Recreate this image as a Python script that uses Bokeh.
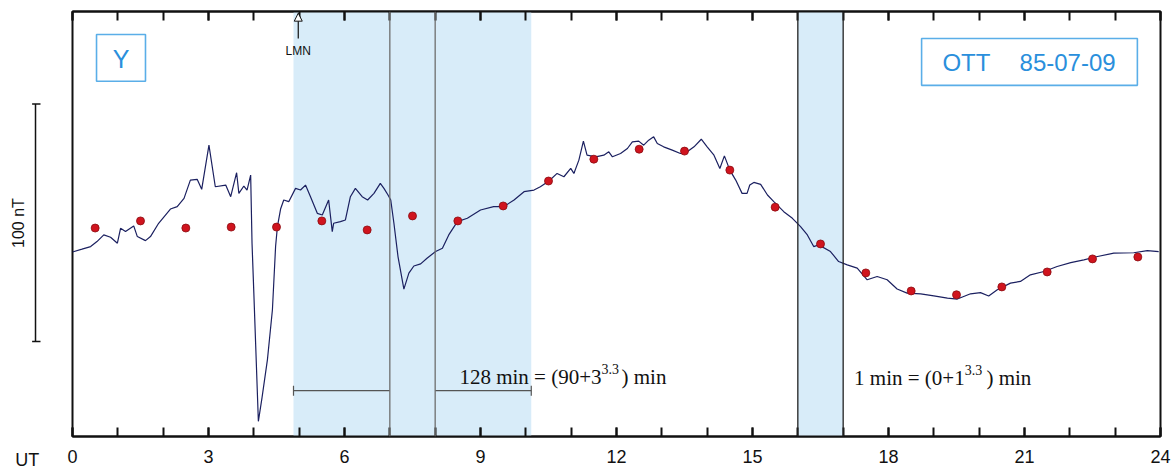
from bokeh.plotting import figure
from bokeh.models import (Range1d, LinearAxis, SingleIntervalTicker, FixedTicker, BoxAnnotation,
                          Span, Label, Arrow, NormalHead)
from bokeh.layouts import row
from bokeh.embed import file_html
from bokeh.resources import INLINE

# ---- data (UT hours, nT) ----
trace_t = [0.00, 0.21, 0.40, 0.54, 0.69, 0.84, 0.99, 1.06, 1.17, 1.35, 1.43, 1.61, 1.72, 1.90,
           2.16, 2.31, 2.46, 2.60, 2.75, 2.85, 3.01, 3.15, 3.38, 3.49, 3.62, 3.67, 3.78, 3.85,
           3.93, 3.96, 4.00, 4.10, 4.18, 4.30, 4.41, 4.48, 4.52, 4.59, 4.66, 4.77, 4.92, 5.03,
           5.14, 5.25, 5.40, 5.51, 5.65, 5.73, 5.76, 5.91, 6.02, 6.13, 6.24, 6.39, 6.51, 6.65,
           6.79, 6.87, 6.96, 7.02, 7.09, 7.18, 7.31, 7.42, 7.53, 7.68, 7.82, 8.01, 8.16, 8.30,
           8.49, 8.71, 9.00, 9.29, 9.51, 9.74, 9.96, 10.18, 10.32, 10.51, 10.69, 10.84, 10.99,
           11.06, 11.17, 11.27, 11.35, 11.54, 11.72, 11.83, 11.91, 12.09, 12.24, 12.35, 12.49,
           12.60, 12.71, 12.82, 12.90, 13.04, 13.23, 13.41, 13.56, 13.71, 13.87, 14.00, 14.15,
           14.28, 14.38, 14.50, 14.63, 14.77, 14.88, 14.94, 15.03, 15.18, 15.33, 15.47, 15.69,
           15.88, 16.06, 16.21, 16.35, 16.46, 16.72, 16.90, 17.09, 17.31, 17.53, 17.75, 17.97,
           18.19, 18.41, 18.71, 19.00, 19.30, 19.52, 19.81, 20.03, 20.21, 20.40, 20.69, 20.91,
           21.13, 21.43, 21.72, 22.02, 22.31, 22.61, 22.97, 23.41, 23.71, 23.96]
trace_v = [77.7, 78.9, 80.0, 82.1, 84.9, 83.9, 81.4, 87.7, 86.3, 88.7, 84.2, 82.5, 84.2, 89.8,
           95.8, 96.8, 100.3, 108.0, 108.3, 104.1, 122.7, 105.2, 105.9, 101.0, 111.1, 102.4, 105.5, 103.8,
           110.1, 81.5, 60.5, 6.4, 16.3, 32.4, 53.4, 80.0, 88.4, 95.8, 99.6, 98.9, 104.5, 103.8,
           105.9, 101.0, 94.0, 93.3, 99.6, 86.3, 89.8, 90.5, 91.2, 101.0, 104.5, 101.0, 99.6, 102.4,
           106.6, 104.5, 101.7, 99.6, 89.8, 75.8, 62.1, 68.8, 71.8, 72.7, 75.1, 77.9, 79.3, 84.9,
           90.5, 91.9, 95.4, 96.8, 96.8, 99.6, 103.1, 103.8, 105.2, 107.6, 110.8, 109.4, 112.9,
           110.8, 116.4, 124.4, 118.5, 117.8, 118.5, 119.9, 117.8, 119.2, 121.3, 124.1, 124.4,
           122.7, 124.8, 126.2, 123.4, 122.0, 120.6, 119.2, 119.9, 122.0, 125.2, 122.0, 118.5,
           112.9, 118.2, 112.2, 108.0, 102.4, 102.4, 105.9, 107.0, 106.2, 101.7, 98.9, 94.7,
           91.9, 88.4, 84.9, 80.0, 80.7, 77.9, 73.7, 72.3, 70.9, 66.0, 67.4, 66.0,
           62.1, 60.4, 60.1, 59.2, 58.3, 57.9, 60.1, 60.6, 59.2, 61.8, 64.6, 65.3,
           68.1, 69.5, 71.6, 73.2, 74.4, 75.8, 77.2, 77.4, 78.3, 77.9]

hour_t = [0.5, 1.5, 2.5, 3.5, 4.5, 5.5, 6.5, 7.5, 8.5, 9.5, 10.5, 11.5,
          12.5, 13.5, 14.5, 15.5, 16.5, 17.5, 18.5, 19.5, 20.5, 21.5, 22.5, 23.5]
hour_v = [87.8, 90.8, 87.8, 88.2, 88.2, 90.8, 87.0, 92.9, 90.8, 97.1, 107.6, 116.8,
          121.0, 120.2, 112.2, 96.6, 81.1, 68.9, 61.3, 59.7, 63.0, 69.3, 74.8, 75.6]

windows = [(4.875, 10.12), (16.0, 17.0)]
inner_lines = [7.0, 8.0]
window2_lines = [16.0, 17.0]
lmn_time = 4.98
scale_lo, scale_hi = 40.0, 140.0   # 100 nT scale bar
component = "Y"
station = "OTT"
date_label = "85-07-09"
note1 = ["128 min = (90+3", "3.3", ") min"]
note2 = ["1 min = (0+1", "3.3", " ) min"]

BLUE = "#2a8fdc"
BLUE_BOX = "#5aaee8"
SHADE = "#d8ecf9"
INK = "#111111"

# ---------------- main panel ----------------
p = figure(width=1109, height=472, output_backend="svg", toolbar_location=None,
           x_range=Range1d(0, 24), y_range=Range1d(0, 179), y_axis_type=None,
           min_border_left=8, min_border_right=13, min_border_top=11, min_border_bottom=35)
p.background_fill_color = "white"
p.border_fill_color = "white"
p.xgrid.grid_line_color = None
p.ygrid.grid_line_color = None
p.outline_line_color = INK
p.outline_line_width = 2

def style_axis(ax, labels=True):
    ax.ticker = SingleIntervalTicker(interval=3, num_minor_ticks=3)
    ax.major_tick_in = 9
    ax.major_tick_out = 0
    ax.minor_tick_in = 9
    ax.minor_tick_out = 0
    ax.major_tick_line_color = INK
    ax.minor_tick_line_color = INK
    ax.major_tick_line_width = 2
    ax.minor_tick_line_width = 2
    ax.axis_line_color = INK
    ax.axis_line_width = 2
    if labels:
        ax.major_label_text_font = "Liberation Sans"
        ax.major_label_text_font_size = "18px"
        ax.major_label_text_color = INK
        ax.major_label_standoff = 13
    else:
        ax.major_label_text_color = None
        ax.major_label_text_font_size = "1px"
        ax.major_label_standoff = 0

style_axis(p.xaxis[0])
top_ax = LinearAxis()
style_axis(top_ax, labels=False)
p.add_layout(top_ax, "above")

# shaded windows
for a, b in windows:
    p.add_layout(BoxAnnotation(left=a, right=b, fill_color=SHADE, fill_alpha=1.0,
                               line_color=None, level="underlay"))
for x in inner_lines:
    p.add_layout(Span(location=x, dimension="height", line_color="#6e6e6e", line_width=1.3))
for x in window2_lines:
    p.add_layout(Span(location=x, dimension="height", line_color="#222222", line_width=1.3))

# brackets under the first window
ybr = 19.3
p.segment(x0=[windows[0][0], inner_lines[1]], x1=[inner_lines[0], windows[0][1]],
          y0=[ybr, ybr], y1=[ybr, ybr], line_color="#555555", line_width=1.2)
p.segment(x0=[windows[0][0], windows[0][1]], x1=[windows[0][0], windows[0][1]],
          y0=[ybr - 2.1, ybr - 2.1], y1=[ybr + 2.1, ybr + 2.1], line_color="#555555", line_width=1.2)

# trace and hourly means
p.line(trace_t, trace_v, line_color="#1b2060", line_width=1.2)
p.scatter(hour_t, hour_v, size=8, fill_color="#d0141e", line_color="#8a0c12", line_width=0.8)

# boxes
p.quad(left=[0.53], right=[1.61], bottom=[149.6], top=[169.3], fill_color=None,
       line_color=BLUE_BOX, line_width=1.6)
p.quad(left=[18.73], right=[23.49], bottom=[147.9], top=[167.6], fill_color=None,
       line_color=BLUE_BOX, line_width=1.6)
p.add_layout(Label(x=1.07, y=159.2, text=component, text_align="center", text_baseline="middle",
                   text_font="Liberation Sans", text_font_size="25px", text_color=BLUE))
p.add_layout(Label(x=19.19, y=157.6, text=station, text_align="left", text_baseline="middle",
                   text_font="Liberation Sans", text_font_size="24px", text_color=BLUE))
p.add_layout(Label(x=23.01, y=157.6, text=date_label, text_align="right", text_baseline="middle",
                   text_font="Liberation Sans", text_font_size="24px", text_color=BLUE))

# LMN marker
p.add_layout(Arrow(end=NormalHead(size=8, fill_color="white", line_color=INK, line_width=1),
                   x_start=lmn_time, y_start=167.6, x_end=lmn_time, y_end=178.3,
                   line_color=INK, line_width=1.2))
p.add_layout(Label(x=lmn_time, y=162.2, text="LMN", text_align="center", text_baseline="middle",
                   text_font="Liberation Sans", text_font_size="12px", text_color=INK))

# notes with superscripts
def note(parts, x_sup, x_after, y_base):
    p.add_layout(Label(x=x_sup, y=y_base, text=parts[0], text_align="right", text_baseline="alphabetic",
                       text_font="Liberation Serif", text_font_size="21px", text_color=INK))
    p.add_layout(Label(x=x_sup, y=y_base + 3.2, text=parts[1], text_align="left", text_baseline="alphabetic",
                       text_font="Liberation Serif", text_font_size="14px", text_color=INK))
    p.add_layout(Label(x=x_after, y=y_base, text=parts[2], text_align="left", text_baseline="alphabetic",
                       text_font="Liberation Serif", text_font_size="21px", text_color=INK))

note(note1, 11.67, 12.11, 25.2)
note(note2, 19.68, 20.16, 24.8)

# ---------------- left strip: scale bar and outer labels ----------------
left = figure(width=64, height=472, output_backend="svg", toolbar_location=None,
              x_range=Range1d(-1.5882, -0.1765), y_range=Range1d(0, 179), y_axis_type=None,
              min_border_left=0, min_border_right=0, min_border_top=11, min_border_bottom=35)
left.outline_line_color = None
left.xgrid.grid_line_color = None
left.ygrid.grid_line_color = None
left.background_fill_color = "white"
left.border_fill_color = "white"

lax = left.xaxis[0]
lax.ticker = FixedTicker(ticks=[-1], minor_ticks=[])
lax.major_label_overrides = {-1: "UT"}
lax.axis_line_color = None
lax.major_tick_line_color = None
lax.minor_tick_line_color = None
lax.major_tick_in = 0
lax.major_tick_out = 0
lax.major_label_standoff = 13
lax.major_label_text_font = "Liberation Sans"
lax.major_label_text_font_size = "18px"
lax.major_label_text_color = INK

bar_x = -0.816
left.segment(x0=[bar_x], x1=[bar_x], y0=[scale_lo], y1=[scale_hi], line_color=INK, line_width=1.5)
left.segment(x0=[bar_x - 0.075, bar_x - 0.075], x1=[bar_x + 0.11, bar_x + 0.11],
             y0=[scale_lo, scale_hi], y1=[scale_lo, scale_hi], line_color=INK, line_width=1.5)
left.add_layout(Label(x=-1.19, y=89.9, text="100 nT", angle=1.5708, text_align="center",
                      text_baseline="middle", text_font="Liberation Sans", text_font_size="16px",
                      text_color=INK))

layout = row(left, p)
open("out.html", "w").write(file_html(layout, INLINE))
